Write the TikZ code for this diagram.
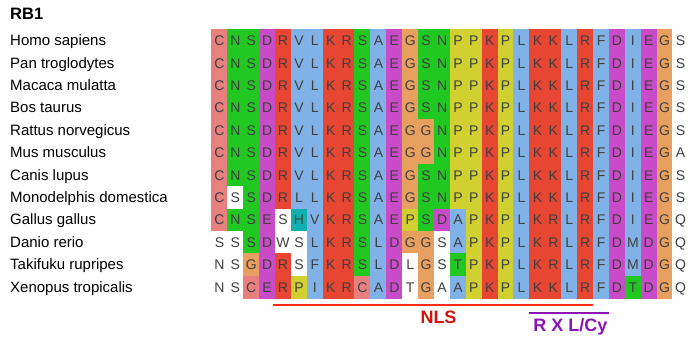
\documentclass[tikz,border=0pt]{standalone}
\usepackage{fontspec}
\setmainfont{Liberation Sans}

% residue colour classes (Clustal-like scheme)
\definecolor{colp}{HTML}{E88080} % cysteine
\definecolor{colg}{HTML}{21C821} % polar
\definecolor{colm}{HTML}{C84CC8} % negative
\definecolor{colr}{HTML}{E64632} % positive
\definecolor{colb}{HTML}{80B2E8} % hydrophobic
\definecolor{colo}{HTML}{E8A060} % glycine
\definecolor{coly}{HTML}{D0D030} % proline
\definecolor{colc}{HTML}{10B0B0} % aromatic
\definecolor{colw}{HTML}{FFFFFF} % unshaded
\definecolor{ink}{HTML}{404040}
\definecolor{nlsred}{HTML}{FF2814}
\definecolor{nlstext}{HTML}{D2140A}
\definecolor{motif}{HTML}{8C14B4}

% one alignment row: #1 row number, #2 residues, #3 colour classes
\newcommand\alnrow[3]{%
  \foreach \cc [count=\j] in {#3} {%
    \fill[fill=col\cc] ({211.5+(\j-1)*15.9-0.2},{29.5+(#1-1)*22.4-0.2}) rectangle ++(16.3,22.8);
  }%
  \foreach \aa [count=\j] in {#2} {%
    \node[res] (res-#1-\j) at ({211.5+(\j-0.5)*15.9},{29.5+(#1-0.5)*22.4+5}) {\aa};
  }%
}

\begin{document}
\begin{tikzpicture}[x=1pt,y=-1pt,
  res/.style={font=\fontsize{14}{14}\selectfont, text=ink, inner sep=0pt, anchor=base},
  lab/.style={font=\fontsize{15}{15}\selectfont, text=black, inner sep=0pt, anchor=base west},
  ttl/.style={font=\fontsize{16.5}{16.5}\selectfont\bfseries, inner sep=0pt, anchor=base west},
  bartxt/.style={font=\fontsize{18}{18}\selectfont\bfseries, inner sep=0pt, anchor=base},
  nlsbar/.style={draw=nlsred, line width=2.4pt},
  motifbar/.style={draw=motif, line width=2.4pt}]
\useasboundingbox[fill=white] (0,0) rectangle (688,338);

\node[ttl] (title) at (10,19) {RB1};

\foreach \r/\name in {1/Homo sapiens, 2/Pan troglodytes, 3/Macaca mulatta,
    4/Bos taurus, 5/Rattus norvegicus, 6/Mus musculus, 7/Canis lupus,
    8/Monodelphis domestica, 9/Gallus gallus, 10/Danio rerio,
    11/Takifuku rupripes, 12/Xenopus tropicalis}
  \node[lab] (lab\r) at (10,{29.5+(\r-0.5)*22.4+5}) {\name};

\alnrow{1}{C,N,S,D,R,V,L,K,R,S,A,E,G,S,N,P,P,K,P,L,K,K,L,R,F,D,I,E,G,S}
  {p,g,g,m,r,b,b,r,r,g,b,m,o,g,g,y,y,r,y,b,r,r,b,r,b,m,b,m,o,w}
\alnrow{2}{C,N,S,D,R,V,L,K,R,S,A,E,G,S,N,P,P,K,P,L,K,K,L,R,F,D,I,E,G,S}
  {p,g,g,m,r,b,b,r,r,g,b,m,o,g,g,y,y,r,y,b,r,r,b,r,b,m,b,m,o,w}
\alnrow{3}{C,N,S,D,R,V,L,K,R,S,A,E,G,S,N,P,P,K,P,L,K,K,L,R,F,D,I,E,G,S}
  {p,g,g,m,r,b,b,r,r,g,b,m,o,g,g,y,y,r,y,b,r,r,b,r,b,m,b,m,o,w}
\alnrow{4}{C,N,S,D,R,V,L,K,R,S,A,E,G,S,N,P,P,K,P,L,K,K,L,R,F,D,I,E,G,S}
  {p,g,g,m,r,b,b,r,r,g,b,m,o,g,g,y,y,r,y,b,r,r,b,r,b,m,b,m,o,w}
\alnrow{5}{C,N,S,D,R,V,L,K,R,S,A,E,G,G,N,P,P,K,P,L,K,K,L,R,F,D,I,E,G,S}
  {p,g,g,m,r,b,b,r,r,g,b,m,o,o,g,y,y,r,y,b,r,r,b,r,b,m,b,m,o,w}
\alnrow{6}{C,N,S,D,R,V,L,K,R,S,A,E,G,G,N,P,P,K,P,L,K,K,L,R,F,D,I,E,G,A}
  {p,g,g,m,r,b,b,r,r,g,b,m,o,o,g,y,y,r,y,b,r,r,b,r,b,m,b,m,o,w}
\alnrow{7}{C,N,S,D,R,V,L,K,R,S,A,E,G,S,N,P,P,K,P,L,K,K,L,R,F,D,I,E,G,S}
  {p,g,g,m,r,b,b,r,r,g,b,m,o,g,g,y,y,r,y,b,r,r,b,r,b,m,b,m,o,w}
\alnrow{8}{C,S,S,D,R,L,L,K,R,S,A,E,G,S,N,P,P,K,P,L,K,K,L,R,F,D,I,E,G,S}
  {p,w,g,m,r,b,b,r,r,g,b,m,o,g,g,y,y,r,y,b,r,r,b,r,b,m,b,m,o,w}
\alnrow{9}{C,N,S,E,S,H,V,K,R,S,A,E,P,S,D,A,P,K,P,L,K,R,L,R,F,D,I,E,G,Q}
  {p,g,g,m,w,c,b,r,r,g,b,m,y,g,m,b,y,r,y,b,r,r,b,r,b,m,b,m,o,w}
\alnrow{10}{S,S,S,D,W,S,L,K,R,S,L,D,G,G,S,A,P,K,P,L,K,R,L,R,F,D,M,D,G,Q}
  {w,w,g,m,w,w,b,r,r,g,b,m,o,o,w,b,y,r,y,b,r,r,b,r,b,m,b,m,o,w}
\alnrow{11}{N,S,G,D,R,S,F,K,R,S,L,D,L,G,S,T,P,K,P,L,K,R,L,R,F,D,M,D,G,Q}
  {w,w,o,m,r,w,b,r,r,g,b,m,w,o,w,g,y,r,y,b,r,r,b,r,b,m,b,m,o,w}
\alnrow{12}{N,S,C,E,R,P,I,K,R,C,A,D,T,G,A,A,P,K,P,L,K,K,L,R,F,D,T,D,G,Q}
  {w,w,p,m,r,y,b,r,r,p,b,m,w,o,w,b,y,r,y,b,r,r,b,r,b,m,g,m,o,w}

% nuclear localisation signal
\coordinate (nlsA) at (272.7,305);
\coordinate (nlsB) at (593.3,305);
\draw[nlsbar] (nlsA) -- (nlsB);
\node[bartxt, text=nlstext] (nls) at (438.5,323.3) {NLS};

% RxL/Cy motif
\coordinate (motA) at (529.3,312.7);
\coordinate (motB) at (609.3,312.7);
\draw[motifbar] (motA) -- (motB);
\node[bartxt, text=motif] (rxl) at (570.5,331) {R X L/Cy};
\end{tikzpicture}
\end{document}
